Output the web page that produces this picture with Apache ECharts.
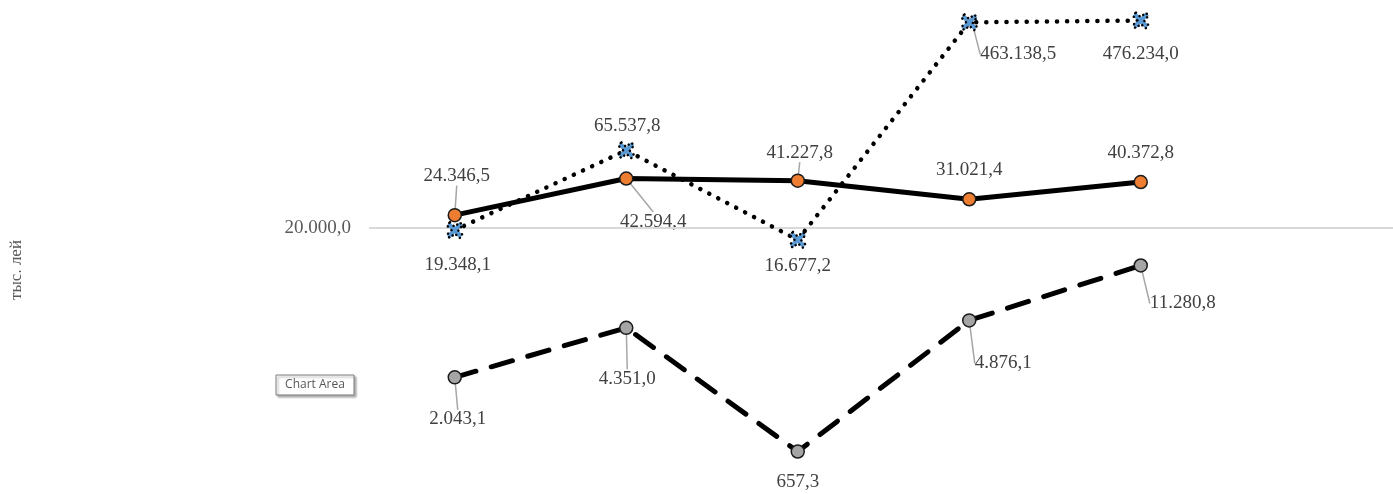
<!DOCTYPE html>
<html><head><meta charset="utf-8">
<script src="https://cdn.jsdelivr.net/npm/echarts@6/dist/echarts.min.js"></script>
<style>html,body{margin:0;padding:0;background:#fff;overflow:hidden}#c{width:1400px;height:494px}</style>
</head><body><div id="c"></div>
<script>
// ---- data ----
const categories = ['1', '2', '3', '4', '5', ''];
const seriesDotted = [19348.1, 65537.8, 16677.2, 463138.5, 476234.0];
const seriesSolid = [24346.5, 42594.4, 41227.8, 31021.4, 40372.8];
const seriesDashed = [2043.1, 4351.0, 657.3, 4876.1, 11280.8];
const axisCrossValue = 20000;
const axisCrossLabel = '20.000,0';
const axisName = 'тыс. лей';

// ---- label placement (style only) ----
const offDotted = [[3, 35], [1, -24], [0, 26], [49, 32], [0, 33]];
const leadDotted = [false, false, false, true, false];
const offSolid = [[2, -39], [27, 43], [2, -28], [0, -29], [0, -29]];
const leadSolid = [true, true, true, false, false];
const offDashed = [[3, 42], [1, 51], [0, 30], [34, 43], [42, 38]];
const leadDashed = [true, true, false, true, true];

const SERIF = '"Liberation Serif", "Times New Roman", serif';

function fmt(v) {
  const s = v.toFixed(1).split('.');
  const ip = s[0].replace(/\B(?=(\d{3})+(?!\d))/g, '.');
  return ip + ',' + s[1];
}
function items(vals, lead) {
  return vals.map((v, i) => ({ value: v, labelLine: { show: lead[i] } }));
}
const labelBase = {
  show: true, position: 'inside', fontFamily: SERIF, fontSize: 19, color: '#404040',
  formatter: p => fmt(p.value)
};
const labelLineBase = { show: true, lineStyle: { color: '#a6a6a6', width: 1.5 } };

const xPath = 'path://M2,0 L5,3 L8,0 L10,2 L7,5 L10,8 L8,10 L5,7 L2,10 L0,8 L3,5 L0,2 Z';

const chart = echarts.init(document.getElementById('c'));
chart.setOption({
  animation: false,
  backgroundColor: '#fff',
  grid: { left: 369, top: 0, width: 1029, height: 494, containLabel: false },
  xAxis: {
    type: 'category', data: categories, boundaryGap: true,
    axisLine: { show: false }, axisTick: { show: false }, axisLabel: { show: false }, splitLine: { show: false }
  },
  yAxis: {
    type: 'log', logBase: 10, min: 343.6, max: 651600,
    axisLine: { show: false }, axisTick: { show: false }, axisLabel: { show: false }, splitLine: { show: false }
  },
  graphic: [
    {
      type: 'text', x: 17, y: 270, rotation: Math.PI / 2,
      style: { text: axisName, font: '17px ' + SERIF, fill: '#595959', align: 'center', verticalAlign: 'middle' }
    },
    {
      type: 'group', z: 100,
      children: [
        { type: 'rect', shape: { x: 276, y: 375, width: 78, height: 20 },
          style: { fill: '#fff', stroke: '#7a7a7a', lineWidth: 1, shadowBlur: 2, shadowOffsetX: 2, shadowOffsetY: 2, shadowColor: 'rgba(0,0,0,0.3)' } },
        { type: 'text', x: 315, y: 385,
          style: { text: 'Chart Area', font: '12px "Open Sans", "Noto Sans", sans-serif', fill: '#575757', align: 'center', verticalAlign: 'middle' } }
      ]
    }
  ],
  series: [
    {
      type: 'line', data: [], z: 1, silent: true,
      markLine: {
        silent: true, symbol: 'none',
        lineStyle: { color: '#d9d9d9', width: 2, type: 'solid' },
        label: { show: true, position: 'start', distance: 18, formatter: axisCrossLabel, fontFamily: SERIF, fontSize: 19, color: '#595959' },
        data: [{ yAxis: axisCrossValue }]
      }
    },
    {
      type: 'line', z: 3, data: items(seriesDashed, leadDashed),
      symbol: 'circle', symbolSize: 13,
      itemStyle: { color: '#a5a5a5', borderColor: '#1a1a1a', borderWidth: 1.5 },
      lineStyle: { color: '#000', width: 5, type: [22, 16], cap: 'round' },
      label: labelBase, labelLine: labelLineBase,
      labelLayout: p => ({ dx: offDashed[p.dataIndex][0], dy: offDashed[p.dataIndex][1] })
    },
    {
      type: 'line', z: 4, data: items(seriesSolid, leadSolid),
      symbol: 'circle', symbolSize: 13,
      itemStyle: { color: '#ed7d31', borderColor: '#1a1a1a', borderWidth: 1.5 },
      lineStyle: { color: '#000', width: 5, type: 'solid' },
      label: labelBase, labelLine: labelLineBase,
      labelLayout: p => ({ dx: offSolid[p.dataIndex][0], dy: offSolid[p.dataIndex][1] })
    },
    {
      type: 'line', z: 5, data: items(seriesDotted, leadDotted),
      symbol: xPath, symbolSize: 16,
      itemStyle: { color: '#5b9bd5', borderColor: '#000', borderWidth: 2.5, borderType: [0.1, 5], borderCap: 'round' },
      lineStyle: { color: '#000', width: 4.5, type: [0.1, 10], cap: 'round' },
      label: labelBase, labelLine: labelLineBase,
      labelLayout: p => ({ dx: offDotted[p.dataIndex][0], dy: offDotted[p.dataIndex][1] })
    }
  ]
});
</script>
</body></html>
